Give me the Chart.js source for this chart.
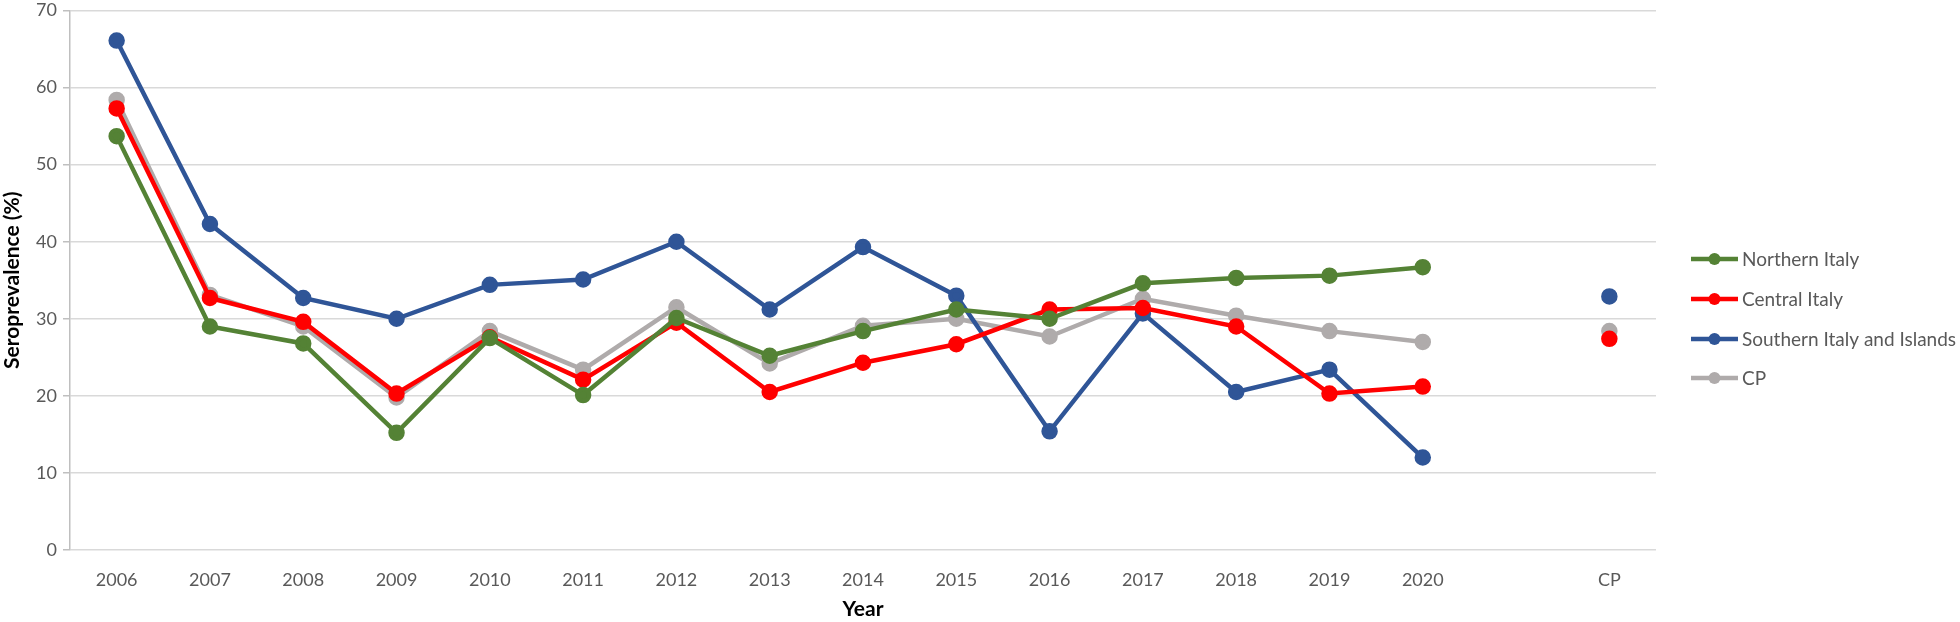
<!DOCTYPE html>
<html>
<head>
<meta charset="utf-8">
<script src="https://cdn.jsdelivr.net/npm/chart.js@4"></script>
<style>
  html, body { margin:0; padding:0; background:#fff; }
  #wrap { width:1960px; height:622px; position:relative; }
</style>
</head>
<body>
<div id="wrap"><canvas id="chart" width="1960" height="622"></canvas></div>
<script>
// categories: 2006..2020, one empty slot, then CP
const years = ['2006','2007','2008','2009','2010','2011','2012','2013','2014','2015','2016','2017','2018','2019','2020','','CP'];
const yTicks = [0,10,20,30,40,50,60,70];

const northern = [53.7,29.0,26.8,15.2,27.5,20.1,30.1,25.2,28.4,31.2,30.0,34.6,35.3,35.6,36.7,null,null];
const central  = [57.3,32.7,29.6,20.3,27.6,22.1,29.5,20.5,24.3,26.7,31.2,31.4,29.0,20.3,21.2,null,27.4];
const southern = [66.1,42.3,32.7,30.0,34.4,35.1,40.0,31.2,39.3,33.0,15.4,30.7,20.5,23.4,12.0,null,32.9];
const cp       = [58.4,33.1,29.0,19.8,28.4,23.4,31.5,24.2,29.1,30.0,27.7,32.6,30.4,28.4,27.0,null,28.4];

const seriesNames = ['Northern Italy','Central Italy','Southern Italy and Islands','CP'];
const seriesColors = ['#548235','#FF0000','#2F5597','#AFABAB'];

const FONT = 'Lato, "Open Sans", sans-serif';

function ds(label, data, color){
  return {
    label, data,
    borderColor: color, backgroundColor: color,
    pointBackgroundColor: color, pointBorderColor: color,
    borderWidth: 4.5, pointRadius: 6, pointHoverRadius: 6,
    tension: 0, spanGaps: false
  };
}

// legend drawn at the right, line + dot like the office style
const sideLegend = {
  id: 'sideLegend',
  afterDraw(chart){
    const ctx = chart.ctx;
    const x0 = 1691, x1 = 1738, xt = 1742;
    const rows = [259, 299, 339, 378];
    ctx.save();
    seriesNames.forEach((name, i) => {
      const y = rows[i];
      ctx.strokeStyle = seriesColors[i];
      ctx.lineWidth = 4.5;
      ctx.beginPath(); ctx.moveTo(x0, y); ctx.lineTo(x1, y); ctx.stroke();
      ctx.fillStyle = seriesColors[i];
      ctx.beginPath(); ctx.arc((x0 + x1) / 2, y, 6, 0, Math.PI * 2); ctx.fill();
      ctx.fillStyle = '#595959';
      ctx.font = '19px ' + FONT;
      ctx.textAlign = 'left'; ctx.textBaseline = 'middle';
      ctx.fillText(name, xt, y + 1);
    });
    ctx.restore();
  }
};

Chart.defaults.animation = false;

new Chart(document.getElementById('chart').getContext('2d'), {
  type: 'line',
  data: {
    labels: years,
    datasets: [
      ds(seriesNames[0], northern, seriesColors[0]),
      ds(seriesNames[1], central, seriesColors[1]),
      ds(seriesNames[2], southern, seriesColors[2]),
      ds(seriesNames[3], cp, seriesColors[3])
    ]
  },
  options: {
    responsive: false,
    maintainAspectRatio: false,
    animation: false,
    layout: { padding: { top: 7, right: 304, left: 0, bottom: 0 } },
    plugins: { legend: { display: false }, tooltip: { enabled: false } },
    scales: {
      x: {
        offset: true,
        grid: { display: false, drawTicks: false },
        border: { display: false },
        ticks: { color: '#595959', font: { family: FONT, size: 18 }, padding: 19, maxRotation: 0, autoSkip: false },
        title: { display: true, text: 'Year', color: '#000', font: { family: FONT, size: 21, weight: 'bold' }, padding: { top: 4, bottom: 0 } },
        afterFit(scale){ scale.height = 72; }
      },
      y: {
        min: 0, max: 70,
        afterBuildTicks(scale){ scale.ticks = yTicks.map(v => ({ value: v })); },
        grid: { color: '#D9D9D9', lineWidth: 1.5, tickLength: 7, tickColor: '#BFBFBF' },
        border: { display: true, color: '#BFBFBF', width: 1.5 },
        ticks: { color: '#595959', font: { family: FONT, size: 18 }, padding: 6 },
        title: { display: true, text: 'Seroprevalence (%)', color: '#000', font: { family: FONT, size: 21, weight: 'bold' }, padding: { top: 0, bottom: 2 } },
        afterFit(scale){ scale.width = 70; scale.paddingTop = 0; scale.paddingBottom = 0; }
      }
    }
  },
  plugins: [sideLegend]
});
</script>
</body>
</html>
